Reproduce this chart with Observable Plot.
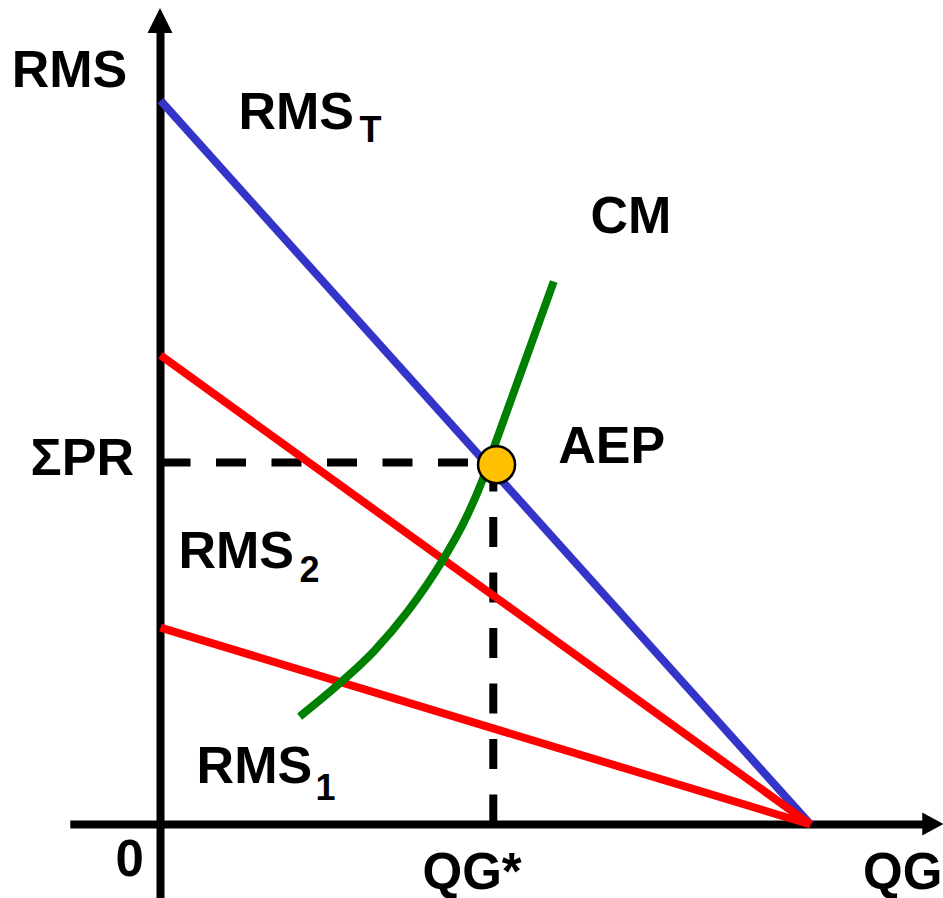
<!DOCTYPE html>
<html><head><meta charset="utf-8">
<script src="https://cdn.jsdelivr.net/npm/d3@7"></script>
<script src="https://cdn.jsdelivr.net/npm/@observablehq/plot@0.6"></script>
<style>body{margin:0;background:#fff} svg{display:block}</style>
</head><body><div id="chart"></div>
<script>
// Demand-type curves (QG on x, RMS on y)
const rmsT = [{qg: 0, rms: 10}, {qg: 10, rms: 0}];
const rms2 = [{qg: 0, rms: 6.48}, {qg: 10, rms: 0}];
const rms1 = [{qg: 0, rms: 2.72}, {qg: 10, rms: 0}];
// Marginal cost curve CM
const cmQG  = [2.14, 2.77, 3.28, 3.80, 4.34, 4.66, 4.95, 5.15, 5.54, 6.05];
const cmRMS = [1.49, 1.96, 2.39, 2.94, 3.65, 4.16, 4.75, 5.26, 6.23, 7.50];
const cm = cmQG.map((q, i) => ({qg: q, rms: cmRMS[i]}));
// Equilibrium
const qgStar = 5.12;
const sigmaPR = 5.0;
const aep = [{qg: 5.17, rms: 4.97}];
// Axis extents (data units)
const xAxisExtent = [-1.38, 11.75];
const yAxisExtent = [-1.05, 10.95];
const xArrowTip = 12.05;
const yArrowTip = 11.27;

const font = "'Liberation Sans', Arial, sans-serif";
const main = {fontSize: 52, fontWeight: "bold", fontFamily: font, fill: "black", textAnchor: "start", lineAnchor: "bottom"};
const axisLbl = {...main, fontSize: 51};
const sub = {...main, fontSize: 36};
const lbl = (t, x, y, o = main) => Plot.text([t], {x, y, text: d => d, ...o});

const lineStyle = {strokeWidth: 8, strokeLinecap: "butt", strokeLinejoin: "round"};

const chart = Plot.plot({
  width: 943,
  height: 898,
  margin: 0,
  x: {domain: [0, 10], range: [160, 810], axis: null},
  y: {domain: [0, 10], range: [824, 100], axis: null},
  style: {background: "white", overflow: "visible"},
  marks: [
    Plot.ruleY([0], {x1: xAxisExtent[0], x2: xAxisExtent[1], stroke: "black", strokeWidth: 8}),
    Plot.ruleX([0], {y1: yAxisExtent[0], y2: yAxisExtent[1], stroke: "black", strokeWidth: 8}),
    Plot.line([[0, sigmaPR], [qgStar, sigmaPR]], {...lineStyle, stroke: "black", strokeDasharray: "30,25.5"}),
    Plot.line([[qgStar, 0], [qgStar, sigmaPR]], {...lineStyle, stroke: "black", strokeDasharray: "30,25.5"}),
    Plot.line(rmsT, {x: "qg", y: "rms", stroke: "#3434c8", ...lineStyle}),
    Plot.line(rms2, {x: "qg", y: "rms", stroke: "#ff0000", ...lineStyle}),
    Plot.line(rms1, {x: "qg", y: "rms", stroke: "#ff0000", ...lineStyle}),
    Plot.line(cm, {x: "qg", y: "rms", stroke: "#008000", curve: "monotone-x", ...lineStyle}),
    Plot.dot(aep, {x: "qg", y: "rms", r: 18.5, fill: "#ffc000", stroke: "black", strokeWidth: 2.5}),
    lbl("RMS", -2.29, 10.18),
    lbl("RMS", 1.20, 9.613),
    lbl("T", 3.062, 9.42, sub),
    lbl("CM", 6.615, 8.163),
    lbl("AEP", 6.12, 5.0),
    lbl("ΣPR", -2.0, 4.834),
    lbl("RMS", 0.277, 3.536),
    lbl("2", 2.138, 3.343, sub),
    lbl("RMS", 0.555, 0.58),
    lbl("1", 2.385, 0.345, sub),
    lbl("0", -0.692, -0.718, axisLbl),
    lbl("QG*", 4.031, -0.884, axisLbl),
    lbl("QG", 12.03, -0.884, {...axisLbl, textAnchor: "end"})
  ]
});

// Arrowheads placed through the plot's scales
const sx = chart.scale("x"), sy = chart.scale("y");
const svg = d3.select(chart);
const xt = sx.apply(xArrowTip), y0 = sy.apply(0);
svg.append("polygon")
  .attr("points", [[xt, y0], [xt - 21, y0 - 11.5], [xt - 21, y0 + 11.5]].map(p => p.join(",")).join(" "))
  .attr("fill", "black");
const x0 = sx.apply(0), yt = sy.apply(yArrowTip);
svg.append("polygon")
  .attr("points", [[x0, yt], [x0 - 12.5, yt + 25], [x0 + 12.5, yt + 25]].map(p => p.join(",")).join(" "))
  .attr("fill", "black");

document.getElementById("chart").appendChild(chart);
</script>
</body></html>
